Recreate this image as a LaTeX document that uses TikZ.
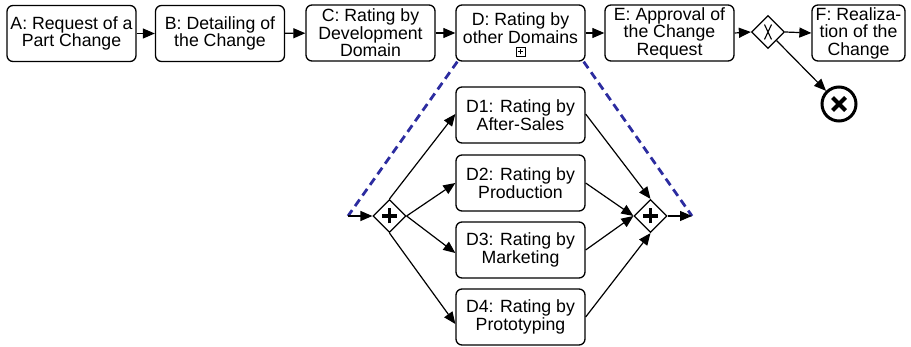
\documentclass[tikz,border=0pt]{standalone}
\usepackage{fontspec}
\setmainfont{Liberation Sans}
\usetikzlibrary{shapes.geometric,arrows.meta}
\definecolor{linkblue}{RGB}{44,44,160}
\begin{document}
\begin{tikzpicture}[x=1pt,y=-1pt,
  txt/.style={inner sep=0pt, align=center, font=\fontsize{17.7}{17.5}\selectfont},
  task/.style={txt, draw, rounded corners=6pt, line width=1.3pt, minimum width=129pt, minimum height=56pt},
  gate/.style={draw, diamond, aspect=1, minimum width=33pt, minimum height=33pt, inner sep=0pt, line width=1.2pt},
  flow/.style={line width=1.2pt, -{Triangle[length=12pt,width=10pt]}},
  link/.style={draw=linkblue, line width=2.8pt, dash pattern=on 8pt off 5pt},
  bar/.style={line width=3.2pt}
]
\useasboundingbox (0,0) rectangle (911,347);

% main process row
\node[task] (A) at (71.5,33.5) {A: Request of a\\Part Change};
\node[task] (B) at (220,33.5) {B: Detailing of\\the Change};
\node[task] (C) at (370.5,33) {C: Rating by\\Development\\Domain};
\node[task] (D) at (520.5,33) {};
\node[txt] (Dtext) at (520.5,28) {D: Rating by\\other Domains};
\node[draw, line width=0.9pt, minimum size=9pt, inner sep=0pt] (Dmark) at (520.5,51.5) {};
\draw[line width=0.9pt] ([xshift=-2.8pt]Dmark.center) -- ([xshift=2.8pt]Dmark.center)
                        ([yshift=-2.8pt]Dmark.center) -- ([yshift=2.8pt]Dmark.center);
\node[task] (E) at (669.5,33) {E: Approval of\\the Change\\Request};
\node[gate] (gx) at (768,32) {};
\draw[line width=1.1pt] ([shift={(-3.5,-7.5)}]gx.center) -- ([shift={(3.5,7.5)}]gx.center)
                        ([shift={(3.5,-7.5)}]gx.center) -- ([shift={(-3.5,7.5)}]gx.center);
\node[task, minimum width=93pt] (F) at (858.5,33) {F: Realiza-\\tion of the\\Change};
\node[draw, circle, line width=3pt, minimum size=34pt, inner sep=0pt] (end) at (839,104) {};
\draw[line width=4.2pt] ([shift={(-6.5,-6.5)}]end.center) -- ([shift={(6.5,6.5)}]end.center)
                        ([shift={(6.5,-6.5)}]end.center) -- ([shift={(-6.5,6.5)}]end.center);

\draw[flow] (A) -- (B);
\draw[flow] (B) -- (C);
\draw[flow] (C) -- (D);
\draw[flow] (D) -- (E);
\draw[flow] (E.east) -- (gx.west);
\draw[flow] (gx.east) -- (F.west);
\draw[flow] (gx.south east) -- (end);

% expanded sub-process
\coordinate (sin) at (348,216);
\coordinate (sout) at (692,216);
\draw[link] ([xshift=2pt]D.south west) -- (sin);
\draw[link] ([xshift=-2pt]D.south east) -- (sout);

\node[gate] (split) at (389.5,216) {};
\node[gate] (join) at (650.5,216) {};
\foreach \g in {split,join}{
  \draw[bar] ([xshift=-7.5pt]\g.center) -- ([xshift=7.5pt]\g.center)
             ([yshift=-7.5pt]\g.center) -- ([yshift=7.5pt]\g.center);
}

\node[task] (D1) at (520.5,115) {D1: Rating by\\After-Sales};
\node[task] (D2) at (520.5,183) {D2: Rating by\\Production};
\node[task] (D3) at (520.5,250) {D3: Rating by\\Marketing};
\node[task] (D4) at (520.5,317) {D4: Rating by\\Prototyping};

\draw[flow] (sin) -- (split.west);
\draw[flow] (split.north) -- ([yshift=1pt]D1.west);
\draw[flow] (split.east) -- (D2.west);
\draw[flow] (split.east) -- ([yshift=-3pt]D3.west);
\draw[flow] (split.south) -- ([yshift=-7pt]D4.west);
\draw[flow] ([yshift=1pt]D1.east) -- (join.north);
\draw[flow] (D2.east) -- (join.west);
\draw[flow] (D3.east) -- (join.west);
\draw[flow] (D4.east) -- (join.south);
\draw[flow] (join.east) -- (sout);
\end{tikzpicture}
\end{document}
